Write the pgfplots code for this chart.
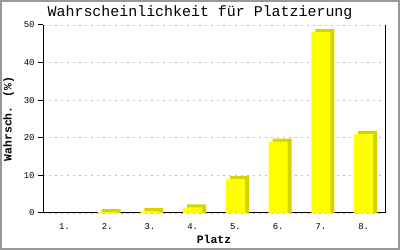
\documentclass[border=0pt]{standalone}
\usepackage{pgfplots}
\pgfplotsset{compat=1.18}
\usepackage{fontspec}
\setmainfont{Liberation Mono}
\definecolor{barY}{RGB}{255,255,0}
\definecolor{barD}{RGB}{212,212,0}
\definecolor{gridG}{RGB}{192,192,192}
\pgfplotstableread{
x v vd
0.5 0 -1
1.5 0.2 1.0
2.5 0.5 1.3
3.5 1.5 2.3
4.5 9.0 9.8
5.5 19.0 19.8
6.5 48.1 48.9
7.5 21.0 21.8
}\datatab
\begin{document}
\begin{tikzpicture}
\path (0,0) rectangle (400bp,250bp);
\begin{axis}[
  at={(43bp,37bp)}, anchor=origin,
  scale only axis, width=342bp, height=188bp,
  xmin=0, xmax=8, ymin=0, ymax=50,
  axis x line*=bottom, axis y line*=left,
  axis line style={black, line width=1bp},
  xtick={0.5,1.5,...,7.5},
  xticklabels={1.,2.,3.,4.,5.,6.,7.,8.},
  x tick style={draw=none},
  ytick={0,10,...,50},
  y tick style={black, line width=1bp},
  major tick length=5bp,
  tick align=outside,
  ymajorgrids,
  grid style={gridG, dash pattern=on 2bp off 4bp, line width=0.8bp},
  /pgf/number format/assume math mode=true,
  tick label style={font=\fontsize{9}{10}\selectfont},
  xticklabel style={yshift=-2bp},
  xlabel={\textbf{Platz}},
  ylabel={\textbf{Wahrsch. (\%)}},
  label style={font=\fontsize{11.5}{13}\selectfont},
  xlabel style={yshift=1bp},
  ylabel style={yshift=3bp},
  ybar, bar width=19bp,
  clip=false,
]
\addplot[draw=none, fill=barD, bar shift=4bp, restrict y to domain=0:100] table[x=x, y=vd] {\datatab};
\addplot[draw=none, fill=barY, bar shift=0bp, restrict y to domain=0.01:100] table[x=x, y=v] {\datatab};
\draw[black, line width=1bp] (rel axis cs:1,0) -- (rel axis cs:1,1);
\end{axis}
\node[font=\fontsize{15}{17}\selectfont] at (200bp,237bp) {Wahrscheinlichkeit für Platzierung};
\draw[gray!80, line width=2bp] (1bp,1bp) rectangle (399bp,249bp);
\end{tikzpicture}
\end{document}
